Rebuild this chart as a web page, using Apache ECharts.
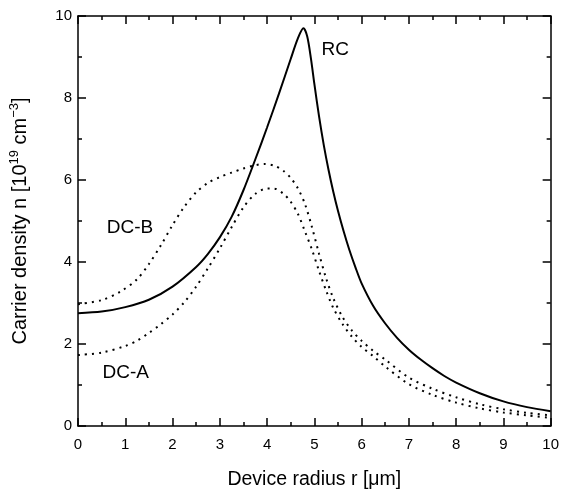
<!DOCTYPE html>
<html lang="en">
  <head>
    <meta charset="UTF-8" />
    <title>Carrier density vs device radius</title>
    <script src="https://cdnjs.cloudflare.com/ajax/libs/echarts/6.0.0/echarts.min.js"></script>
    <style>
      html, body { margin: 0; padding: 0; background: #fff; }
      #main { width: 562px; height: 496px; }
    </style>
  </head>
  <body>
    <div id="main"></div>
    <script type="text/javascript">
      // data: [radius um, density 1e19 cm^-3]
      var rcData = [
        [0, 2.75], [0.5, 2.79], [1.0, 2.9], [1.5, 3.08], [2.0, 3.4], [2.5, 3.88],
        [2.75, 4.2], [3.0, 4.6], [3.25, 5.1], [3.5, 5.75], [3.75, 6.5], [4.0, 7.28],
        [4.25, 8.1], [4.5, 8.95], [4.65, 9.45], [4.77, 9.7], [4.85, 9.5], [4.93, 8.95],
        [5.0, 8.35], [5.1, 7.55], [5.2, 6.85], [5.3, 6.25], [5.4, 5.72], [5.5, 5.25],
        [5.62, 4.75], [5.74, 4.3], [5.87, 3.87], [6.0, 3.48], [6.25, 2.92], [6.5, 2.5],
        [6.75, 2.15], [7.0, 1.86], [7.25, 1.62], [7.5, 1.41], [7.75, 1.22], [8.0, 1.06],
        [8.5, 0.8], [9.0, 0.6], [9.5, 0.46], [10, 0.36]
      ];
      var dcbData = [
        [0, 2.97], [0.5, 3.07], [0.9, 3.28], [1.25, 3.58], [1.5, 3.95], [1.75, 4.4],
        [2.0, 4.9], [2.25, 5.35], [2.5, 5.7], [2.75, 5.93], [3.0, 6.07], [3.25, 6.18],
        [3.5, 6.28], [3.75, 6.36], [3.95, 6.39], [4.15, 6.35], [4.35, 6.22], [4.5, 6.05],
        [4.65, 5.8], [4.8, 5.42], [4.95, 4.85], [5.1, 4.2], [5.25, 3.6], [5.4, 3.12],
        [5.6, 2.65], [5.8, 2.32], [6.0, 2.08], [6.25, 1.83], [6.5, 1.62], [7.0, 1.18],
        [7.5, 0.91], [8.0, 0.7], [8.5, 0.53], [9.0, 0.41], [9.5, 0.32], [10, 0.26]
      ];
      var dcaData = [
        [0, 1.73], [0.5, 1.79], [1.0, 1.95], [1.25, 2.08], [1.5, 2.27], [1.75, 2.48],
        [2.0, 2.72], [2.25, 3.02], [2.5, 3.4], [2.75, 3.85], [3.0, 4.33], [3.25, 4.85],
        [3.5, 5.33], [3.75, 5.66], [4.0, 5.79], [4.15, 5.79], [4.35, 5.66], [4.5, 5.47],
        [4.65, 5.18], [4.8, 4.75], [4.95, 4.3], [5.1, 3.78], [5.25, 3.3], [5.4, 2.88],
        [5.6, 2.48], [5.8, 2.17], [6.0, 1.93], [6.25, 1.7], [6.5, 1.45], [7.0, 1.02],
        [7.5, 0.76], [8.0, 0.57], [8.5, 0.43], [9.0, 0.33], [9.5, 0.26], [10, 0.2]
      ];
      // curve labels placed in data space
      var labelNames = ["RC", "DC-B", "DC-A"];
      var labelCoords = [[5.44, 9.17], [1.1, 4.83], [1.01, 1.29]];

      var font = "Liberation Sans, Arial, sans-serif";
      var main = document.getElementById("main");
      var myChart = echarts.init(main);

      function frameAxis(show) {
        return {
          axisLine: { show: true, onZero: false, lineStyle: { color: "#000", width: 1.5 } },
          axisTick: { show: true, inside: true, length: 8, lineStyle: { color: "#000", width: 1.5 } },
          minorTick: { show: true, splitNumber: 2, length: 4, lineStyle: { color: "#000", width: 1.5 } },
          axisLabel: { show: show, color: "#000", fontSize: 15, fontFamily: font },
          splitLine: { show: false },
          minorSplitLine: { show: false }
        };
      }

      var xBottom = Object.assign(frameAxis(true), {
        type: "value", min: 0, max: 10, interval: 1, position: "bottom",
        name: "Device radius r [\u03bcm]", nameLocation: "middle", nameGap: 44,
        nameTextStyle: { color: "#000", fontSize: 19.5, fontFamily: font }
      });
      xBottom.axisLabel.margin = 11;
      var xTop = Object.assign(frameAxis(false), {
        type: "value", min: 0, max: 10, interval: 1, position: "top"
      });
      var yLeft = Object.assign(frameAxis(true), {
        type: "value", min: 0, max: 10, interval: 2, position: "left",
        name: "Carrier density n [10{sup|19} cm{sup|\u22123}]",
        nameLocation: "middle", nameRotate: 90, nameGap: 46,
        nameTextStyle: {
          color: "#000", fontSize: 20, fontFamily: font, lineHeight: 24,
          rich: {
            sup: { fontSize: 13, fontFamily: font, color: "#000", verticalAlign: "top", lineHeight: 12 }
          }
        }
      });
      yLeft.axisLabel.margin = 6;
      var yRight = Object.assign(frameAxis(false), {
        type: "value", min: 0, max: 10, interval: 2, position: "right"
      });

      var markers = labelNames.map(function (n, i) {
        return { name: n, coord: labelCoords[i] };
      });

      var option = {
        backgroundColor: "#fff",
        animation: false,
        grid: { left: 78, right: 10, top: 16, bottom: 70, containLabel: false },
        xAxis: [xBottom, xTop],
        yAxis: [yLeft, yRight],
        series: [
          {
            name: "RC", type: "line", data: rcData, smooth: 0.3, showSymbol: false,
            lineStyle: { color: "#000", width: 2 },
            markPoint: {
              symbol: "circle", symbolSize: 0, silent: true,
              data: markers,
              label: {
                show: true, position: "inside", formatter: "{b}",
                color: "#000", fontSize: 19, fontFamily: font
              }
            }
          },
          {
            name: "DC-B", type: "line", data: dcbData, smooth: 0.3, showSymbol: false,
            lineStyle: { color: "#000", width: 2, type: [2, 5] }
          },
          {
            name: "DC-A", type: "line", data: dcaData, smooth: 0.3, showSymbol: false,
            lineStyle: { color: "#000", width: 2, type: [2, 5] }
          }
        ]
      };
      myChart.setOption(option);

      window.onresize = function () {
        myChart.resize();
      };
    </script>
  </body>
</html>
